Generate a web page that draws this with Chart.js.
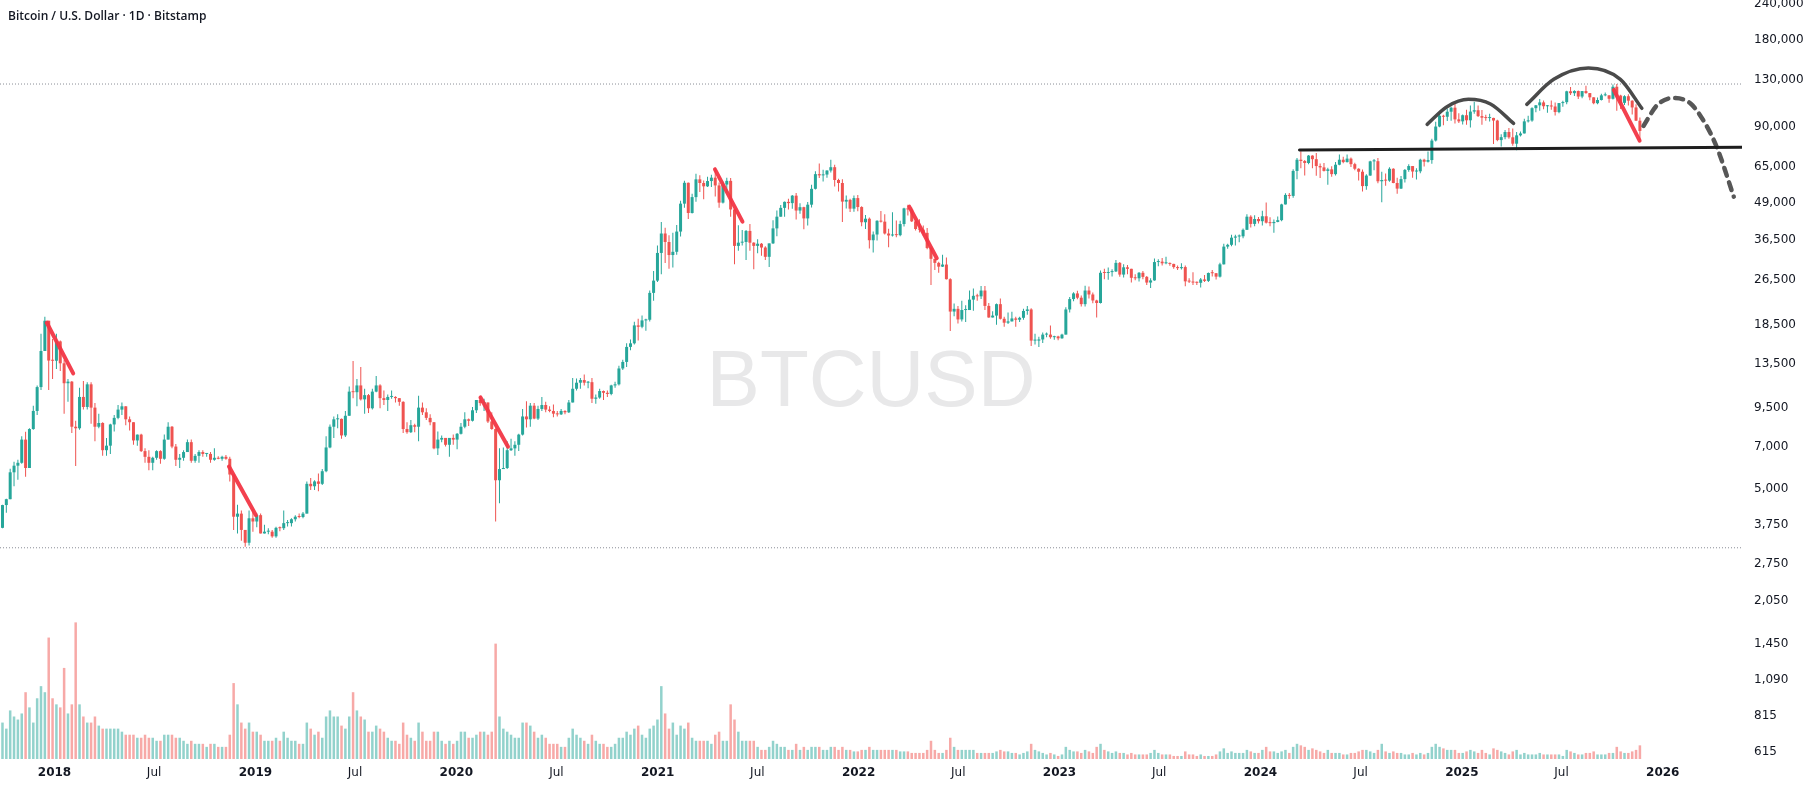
<!DOCTYPE html>
<html>
<head>
<meta charset="utf-8">
<script src="https://cdn.jsdelivr.net/npm/chart.js@4.4.1/dist/chart.umd.min.js"></script>
<style>
  html, body { margin: 0; padding: 0; background: #fff; }
  #wrap { position: relative; width: 1815px; height: 788px; }
  #title { position: absolute; left: 8px; top: 9px; font: 600 12px "Open Sans", sans-serif; line-height: 14px; color: #131722; }
</style>
</head>
<body>
<div id="wrap">
  <canvas id="chart" width="1815" height="788"></canvas>
  <div id="title">Bitcoin / U.S. Dollar · 1D · Bitstamp</div>
</div>
<script>
// weekly candles, one entry per week starting on Monday
const weekStart = "2017-09-25";
const firstOpen = 3660;

const closes = [
  // 2017
  4390, 4600, 5700, 6010, 6150, 7400, 5900, 8050, 9300, 11250, 15000, 19100, 13900, 13880,
  // 2018
  16200, 13600, 11600, 11750, 8200, 8100, 10400, 9600, 11500, 9550, 8200, 8450, 6800, 7050, 8350, 8800, 9400, 9650,
  8700, 8500, 7350, 7700, 6750, 6450, 6150, 6400, 6750, 6350, 7400, 8200, 7000, 6300, 6400, 6700, 7250, 6250,
  6500, 6700, 6600, 6600, 6300, 6400, 6350, 6450, 6350, 5600, 4000, 4100, 3600, 3250, 3950, 3850,
  // 2019
  4050, 3500, 3550, 3550, 3420, 3660, 3650, 3800, 3800, 3920, 4000, 3990, 4100, 5200, 5100, 5300, 5200, 5750,
  6950, 8200, 8700, 8730, 7650, 8950, 10850, 10800, 11400, 10200, 10550, 9500, 10850, 11400, 10300, 10150, 10400, 10400,
  10300, 10000, 8050, 7850, 8300, 8200, 9550, 9200, 8800, 8500, 6900, 7400, 7500, 7100, 7500, 7400,
  // 2020
  7750, 8200, 8700, 8600, 9350, 10150, 9900, 9950, 8550, 8050, 5350, 5850, 5900, 6800, 6900, 7100, 7700, 8900,
  8700, 9700, 8750, 9450, 9750, 9400, 9300, 9100, 9050, 9300, 9200, 9950, 11100, 11650, 11900, 11650, 11700, 10250,
  10350, 10900, 10750, 10650, 11400, 11500, 13050, 13750, 15500, 15950, 18400, 18200, 19150, 19250, 23850, 26300,
  // 2021
  32800, 38300, 35800, 32250, 33100, 38900, 48600, 57400, 45100, 51200, 59000, 57300, 55800, 58200, 59800, 56200, 49000, 56600,
  58300, 46400, 34700, 35600, 35800, 39100, 35600, 34700, 35300, 34250, 31800, 35400, 39900, 43800, 47000, 49300, 48800, 51800,
  46000, 47250, 43200, 48200, 54700, 61500, 60900, 61300, 63300, 65000, 58700, 57300, 49400, 50100, 46700, 50800,
  // 2022
  47300, 41900, 43100, 36300, 38000, 42400, 42100, 38300, 37700, 38000, 37800, 41300, 46800, 46400, 42200, 39700, 39500, 38500,
  34100, 31300, 30300, 29400, 29900, 26600, 20550, 21000, 19300, 20800, 20800, 22600, 23300, 23200, 24300, 21500, 19600, 19900,
  21800, 19400, 18800, 19000, 19450, 19250, 19550, 20650, 20900, 16300, 16300, 16450, 17100, 17100, 16750, 16850, 16600,
  // 2023
  17100, 20900, 22700, 23750, 22950, 21800, 24300, 23550, 22450, 22000, 28000, 27950, 28150, 28300, 30300, 27600, 29250, 28900,
  26900, 26800, 28000, 27100, 25900, 26350, 30500, 30600, 30200, 30250, 30050, 29300, 29050, 29300, 26150, 26100, 25900, 25850,
  26550, 26250, 27950, 27900, 27150, 29950, 34500, 35000, 37050, 37400, 37450, 39450, 43800, 41350, 43000, 42250,
  // 2024
  43950, 41750, 41600, 42000, 42600, 48300, 52100, 51700, 63100, 69000, 68300, 67200, 71300, 69300, 65600, 64900, 63100, 63900,
  61500, 66300, 69000, 67700, 69600, 66600, 64200, 62700, 55900, 60800, 68100, 68200, 58100, 58700, 58400, 64200, 57300, 54800,
  59100, 63600, 65600, 62800, 62900, 69000, 67900, 68800, 80400, 89900, 98000, 97200, 101200, 104500, 95200, 93700,
  // 2025
  98400, 94500, 101300, 102400, 97700, 96500, 96200, 96300, 94300, 80700, 82600, 86100, 82500, 78400, 83800, 85100, 93700, 94300,
  104100, 106500, 109000, 105700, 105700, 105500, 100900, 108400, 109200, 119100, 117300, 119400, 114200, 119300, 117400, 113500,
  108300, 111100, 115300, 115300, 112200, 123500, 115100, 108600, 114500, 110500, 104700, 94200, 86800
];

const highs = [
  4400, 4620, 5860, 6200, 6300, 7600, 7880, 8100, 9700, 11400, 17200, 19700, 19100, 16500,
  17200, 16300, 14000, 12000, 11800, 8600, 11200, 11800, 11700, 11700, 9900, 9100, 8500, 7500, 8400, 9000, 9750, 9950,
  9650, 8900, 8500, 7700, 7750, 6900, 6800, 6450, 6800, 6800, 7700, 8500, 8250, 7150, 6600, 6800, 7400, 7400,
  6600, 6800, 6800, 6650, 6700, 6900, 6480, 6500, 6550, 6450, 5600, 4400, 4200, 3600, 4200, 4250,
  4100, 4100, 3750, 3650, 3600, 3690, 3700, 4200, 3900, 3950, 4050, 4100, 4150, 5300, 5450, 5350, 5650, 5850,
  7600, 8350, 8900, 9050, 8750, 9300, 11300, 13850, 12000, 13200, 11100, 10650, 11100, 12300, 11500, 10950, 10600, 10950,
  10450, 10300, 10050, 8500, 8650, 8400, 10500, 9950, 9500, 9050, 8500, 7900, 7650, 7500, 7500, 7700,
  7800, 8450, 9200, 8750, 9600, 10150, 10500, 10250, 9950, 9200, 8100, 6900, 6950, 7300, 7450, 7300, 7750, 9450,
  10050, 9900, 9900, 9700, 10400, 10000, 9650, 9800, 9300, 9450, 9350, 10150, 12100, 12050, 12100, 12450, 11800, 12100,
  10600, 11100, 10950, 10950, 11450, 11750, 13350, 14000, 15950, 16450, 18950, 19400, 19900, 19400, 24300, 28400,
  34800, 41950, 40100, 37800, 38500, 41000, 49700, 58350, 57500, 52600, 61700, 61000, 58400, 60200, 61200, 64900, 57500, 58000,
  59800, 59600, 46600, 40900, 39400, 39400, 41300, 35750, 36600, 35500, 34600, 35400, 42600, 46000, 48100, 49400, 50500, 52100,
  52900, 48800, 47400, 49200, 56500, 62900, 67000, 63700, 63500, 69000, 66300, 59300, 59100, 51900, 50500, 51900,
  52100, 47600, 44400, 43500, 38900, 42600, 45800, 44700, 39800, 45400, 42500, 42400, 47000, 48200, 47100, 42500, 42900, 40800,
  40000, 34300, 31300, 30600, 32300, 31600, 26800, 21900, 21500, 22400, 21600, 24300, 24700, 23700, 25200, 25200, 22000, 20600,
  21900, 22800, 19700, 20400, 20500, 19700, 19700, 21000, 21500, 21100, 17200, 16800, 17400, 17400, 18400, 16950, 16950,
  17200, 21250, 23100, 23950, 24250, 23350, 25250, 25100, 23900, 22600, 28500, 28900, 29200, 28800, 31000, 30500, 30000, 29800,
  28900, 27650, 28200, 28400, 27300, 26800, 31400, 31200, 31500, 31800, 30400, 30100, 29700, 30200, 29700, 26800, 28100, 26100,
  26850, 27500, 28050, 28600, 27950, 30350, 35300, 35300, 37950, 37950, 38000, 39900, 44700, 44300, 44300, 43700,
  45900, 49000, 43600, 42800, 43900, 48600, 52800, 52900, 64000, 70000, 73800, 68900, 71700, 71500, 72800, 66900, 67200, 64700,
  65500, 67800, 72000, 70600, 72000, 70200, 67300, 64500, 63800, 61400, 68400, 69400, 70000, 62700, 61800, 65000, 64500, 59800,
  60600, 64100, 66500, 65600, 64500, 69500, 69500, 73600, 81500, 93400, 99600, 98700, 103900, 105200, 108300, 99900,
  98900, 102700, 106300, 109500, 106400, 102500, 98800, 99500, 96500, 95000, 84500, 87500, 88800, 88500, 86100, 86400, 95700, 97900,
  104900, 106700, 111900, 110700, 106800, 110600, 108900, 108500, 110500, 119500, 123200, 120200, 119800, 119400, 124400, 117600,
  113600, 113300, 116700, 117900, 115500, 125700, 126200, 115900, 115500, 116400, 110900, 107500, 96600
];

const lows = [
  3650, 4130, 4600, 5100, 5370, 6100, 5500, 5900, 8000, 9000, 11000, 15000, 11000, 12000,
  13000, 12800, 9100, 10000, 7800, 6000, 8000, 9400, 9400, 8400, 7300, 8100, 6500, 6500, 6600, 7900, 8700, 9000,
  8300, 7950, 7100, 7050, 6700, 6150, 5800, 5800, 6300, 6100, 6300, 7400, 6900, 6000, 5900, 6250, 6700, 6150,
  6150, 6150, 6450, 6450, 6150, 6250, 6320, 6250, 6300, 5300, 3600, 3500, 3300, 3150, 3180, 3550,
  3680, 3500, 3500, 3480, 3380, 3380, 3560, 3600, 3700, 3700, 3850, 3950, 3950, 4100, 4950, 4950, 4900, 5150,
  5700, 6900, 7500, 8100, 7450, 7550, 8950, 10300, 9650, 10100, 9100, 9150, 9400, 10800, 9500, 9750, 9300, 10250,
  9950, 9700, 7800, 7750, 7800, 7850, 7300, 9000, 8650, 8300, 6850, 6550, 7250, 7000, 6450, 7100,
  6850, 7700, 8100, 8250, 8550, 9150, 9700, 9300, 8450, 8000, 3850, 4450, 5850, 5850, 6750, 6500, 6750, 7650,
  8150, 8200, 8700, 8650, 9300, 9200, 9200, 8850, 8900, 9000, 9050, 9150, 9950, 10950, 11100, 11400, 11150, 9900,
  9850, 10250, 10150, 10400, 10550, 11200, 11400, 12900, 13200, 15100, 15800, 16300, 18000, 17650, 19000, 22400,
  26000, 27700, 30300, 28900, 29200, 32300, 37400, 47000, 43000, 44900, 49300, 53300, 50300, 55500, 55500, 51500, 47000, 48700,
  53000, 43800, 30000, 33400, 34800, 31000, 33400, 28800, 32700, 32100, 31000, 29300, 35200, 37500, 43800, 43800, 46400, 46700,
  42800, 44800, 39600, 40800, 47100, 54400, 59600, 58000, 59800, 62300, 55700, 53500, 42000, 46800, 45500, 45600,
  45700, 40600, 39700, 34000, 32900, 36200, 41800, 38000, 34300, 37400, 37200, 37500, 40500, 44200, 42000, 39200, 38600, 37600,
  33800, 25400, 28600, 28000, 29300, 26550, 17600, 19800, 18700, 19000, 18900, 20800, 20700, 22400, 22700, 20800, 19550, 19600,
  18500, 19300, 18200, 18600, 19000, 18200, 18900, 19250, 20050, 15600, 15800, 15500, 16000, 16750, 16550, 16400, 16350,
  16550, 17100, 20400, 22300, 22650, 21400, 21400, 22800, 21950, 19600, 21900, 26600, 26500, 27200, 28200, 27100, 26950, 27700,
  25900, 26400, 26100, 26600, 25400, 24800, 26300, 29500, 29700, 30000, 29600, 28900, 28600, 28750, 25150, 25800, 25400, 25400,
  24900, 26000, 26000, 27200, 26550, 26950, 29900, 33900, 34600, 34800, 35700, 36900, 39400, 40200, 40550, 41500,
  40800, 41500, 40600, 38500, 41900, 42200, 48300, 50500, 50900, 59000, 64500, 60800, 66500, 64500, 60700, 59600, 62800, 56500,
  60200, 60800, 66000, 67100, 67500, 65100, 63400, 58500, 53500, 54300, 60700, 63500, 57200, 49100, 56100, 57900, 57200, 52600,
  54600, 57500, 62700, 59800, 58900, 62000, 65300, 67500, 66800, 79800, 89400, 90800, 94000, 94200, 92200, 92500,
  91400, 91200, 89300, 99500, 97000, 91200, 94100, 93500, 78200, 80000, 76600, 81200, 81600, 77200, 74400, 83100, 85100, 92800,
  93400, 100700, 102000, 103100, 100400, 102700, 98200, 100000, 105200, 107500, 115700, 114700, 112000, 112600, 116800, 110800,
  107300, 107300, 110600, 114400, 108600, 111600, 102000, 103500, 106800, 106300, 98900, 94000, 80600
];

// average daily volume of each week, thousand BTC
const volumes = [
  12, 10, 16, 14, 13, 15, 22, 17, 12, 20, 24, 22, 40, 20,
  18, 17, 30, 15, 18, 45, 18, 14, 12, 12, 14, 11, 10, 10, 10, 10, 10, 9, 8, 8, 8, 7, 7, 8, 7, 7,
  6, 6, 8, 8, 8, 7, 7, 6, 5, 6, 5, 5, 5, 4, 5, 5, 4, 4, 4, 8, 25, 18, 12, 10, 12, 9,
  9, 8, 6, 6, 6, 7, 6, 9, 7, 6, 6, 5, 5, 12, 10, 8, 9, 7, 14, 16, 14, 14, 11, 10, 14, 22,
  16, 14, 13, 9, 9, 11, 10, 9, 7, 6, 6, 5, 12, 8, 7, 6, 12, 9, 6, 6, 9, 9, 6, 5, 6, 5,
  6, 9, 9, 7, 7, 8, 9, 9, 8, 9, 38, 14, 10, 9, 8, 7, 7, 12, 12, 11, 9, 7, 8, 7, 5, 5, 5,
  4, 4, 7, 10, 8, 7, 6, 5, 8, 6, 5, 5, 4, 4, 5, 7, 7, 9, 8, 10, 11, 8, 7, 10, 11,
  13, 24, 15, 10, 12, 8, 11, 10, 12, 7, 6, 6, 6, 6, 5, 8, 9, 6, 6, 18, 13, 9, 6, 6, 6, 6, 4,
  3, 3, 4, 6, 5, 4, 4, 3, 3, 5, 3, 4, 3, 4, 4, 4, 3, 3, 4, 4, 3, 4, 3, 3, 2.5,
  2.5, 3, 3, 4, 3, 3, 3, 3, 3, 3, 3, 2.5, 2.5, 2.5, 2, 2, 2, 2, 3, 6, 3, 2, 2, 3, 7, 4, 3,
  3, 3, 3, 3, 2, 2, 2, 2, 2, 2.5, 3, 2.5, 2.5, 2, 2, 1.5, 2, 2.5, 5, 3, 2.5, 2, 1.5, 2, 1.5, 1,
  1.5, 4, 3, 2.5, 2.5, 2, 3, 2.5, 2, 4, 5, 3, 2.5, 2, 2.5, 2, 2, 1.5, 2, 1.5, 1.5, 1.5, 1.5, 2, 3, 2,
  1.5, 1.5, 1.5, 1, 1, 1, 2.5, 1.5, 1.5, 1, 1.5, 1, 1, 1, 1.5, 2.5, 3.5, 2, 2.5, 2, 2, 2, 3, 2.5, 2, 2,
  3, 4, 2.5, 2.5, 2, 2.5, 3, 2, 4, 5, 4.5, 4, 3, 3.5, 3, 2.5, 2, 3, 2, 2, 2, 1.5, 1.5, 2, 2, 2.5,
  3, 3, 2.5, 2, 3, 5, 2.5, 2, 2.5, 2, 2, 1.5, 1.5, 2, 1.5, 2, 1.5, 2, 4, 5, 4, 3.5, 3, 3, 3, 2,
  2, 2.5, 3, 2.5, 2, 3, 2, 1.5, 3.5, 3, 2.5, 2, 1.5, 2.5, 3, 1.5, 2, 1.5, 1.5, 1.5, 2, 1.5, 1.5, 1.5,
  1.5, 1.5, 1, 3, 2.5, 2, 1.5, 1.5, 2, 2, 2.5, 1.5, 1.5, 1.5, 2, 2, 4, 2.5, 2, 2, 2.5, 3, 4.5
];

const xTickDates = ["2018-01-01", "2018-07-01", "2019-01-01", "2019-07-01", "2020-01-01", "2020-07-01",
  "2021-01-01", "2021-07-01", "2022-01-01", "2022-07-01", "2023-01-01", "2023-07-01", "2024-01-01",
  "2024-07-01", "2025-01-01", "2025-07-01", "2026-01-01"];
const xTickLabels = ["2018", "Jul", "2019", "Jul", "2020", "Jul", "2021", "Jul", "2022", "Jul",
  "2023", "Jul", "2024", "Jul", "2025", "Jul", "2026"];
const yTickValues = [240000, 180000, 130000, 90000, 65000, 49000, 36500, 26500, 18500, 13500,
  9500, 7000, 5000, 3750, 2750, 2050, 1450, 1090, 815, 615];

const visibleDates = ["2017-09-24", "2026-05-25"];
const visiblePrices = [579, 246700];
const rangeHigh = 126200;
const rangeLow = 3122;

// drawings on the chart, as [date, price]
const redLines = [
  [["2017-12-18", 18800], ["2018-02-04", 12550]],
  [["2018-11-14", 5970], ["2019-01-02", 4050]],
  [["2020-02-14", 10360], ["2020-04-04", 6990]],
  [["2021-04-15", 63900], ["2021-06-04", 42100]],
  [["2022-04-03", 47450], ["2022-05-23", 31430]],
  [["2025-10-04", 120400], ["2025-11-20", 80300]]
];
const arcLeft = [["2024-10-30", 91500], ["2024-12-05", 105300], ["2025-01-13", 111700], ["2025-02-22", 107600], ["2025-04-05", 92200]];
const arcRight = [["2025-04-29", 107300], ["2025-06-17", 131000], ["2025-08-19", 143400], ["2025-10-16", 131000], ["2025-11-24", 104000]];
const projection = [["2025-11-27", 90300], ["2025-12-22", 106700], ["2026-01-20", 112900], ["2026-02-20", 108200],
  ["2026-03-19", 92200], ["2026-04-10", 75600], ["2026-05-10", 51400]];
const neckline = [["2024-03-12", 74500], ["2026-05-25", 76200]];

const UP = "#26a69a", DOWN = "#ef5350";
const VOL_UP = "rgba(38,166,154,0.5)", VOL_DOWN = "rgba(239,83,80,0.5)";

const EPOCH = Date.UTC(2018, 0, 1);
const toDay = s => (Date.parse(s + "T00:00:00Z") - EPOCH) / 86400000;

const firstDay = toDay(weekStart);
const candleX = closes.map((_, i) => firstDay + i * 7 + 3.5);
const opens = closes.map((c, i) => (i ? closes[i - 1] : firstOpen));
const candleColors = closes.map((c, i) => (c >= opens[i] ? UP : DOWN));
const volColors = closes.map((c, i) => (c >= opens[i] ? VOL_UP : VOL_DOWN));

const toPoints = pts => pts.map(([d, p]) => ({ x: toDay(d), y: p }));

function drawing(pts, color, width, extra) {
  return Object.assign({
    type: "line",
    data: toPoints(pts),
    borderColor: color,
    borderWidth: width,
    borderCapStyle: "round",
    pointRadius: 0,
    fill: false,
    order: 1
  }, extra || {});
}

const watermark = {
  id: "watermark",
  beforeDatasetsDraw(chart) {
    const { ctx, chartArea: a } = chart;
    ctx.save();
    ctx.font = '80px "Liberation Sans", Arial, sans-serif';
    ctx.fillStyle = "#e8e8e9";
    ctx.textAlign = "center";
    ctx.textBaseline = "alphabetic";
    ctx.fillText("BTCUSD", (a.left + a.right) / 2, (a.top + a.bottom) / 2 + 26);
    ctx.restore();
  }
};

const datasets = [
  {
    type: "bar", yAxisID: "yv", order: 10, grouped: false,
    data: candleX.map((x, i) => ({ x, y: volumes[i] })),
    backgroundColor: volColors, barPercentage: 0.65, categoryPercentage: 1
  },
  {
    type: "bar", yAxisID: "y", order: 6, grouped: false, inflateAmount: 0,
    data: candleX.map((x, i) => ({ x, y: [lows[i], highs[i]] })),
    backgroundColor: candleColors, barThickness: 1
  },
  {
    type: "bar", yAxisID: "y", order: 5, grouped: false, inflateAmount: 0, minBarLength: 1,
    data: candleX.map((x, i) => ({ x, y: [opens[i], closes[i]] })),
    backgroundColor: candleColors, barThickness: 3
  },
  drawing([[visibleDates[0], rangeHigh], [visibleDates[1], rangeHigh]], "#8a8d96", 1, { borderDash: [1, 2], borderCapStyle: "butt", order: 8 }),
  drawing([[visibleDates[0], rangeLow], [visibleDates[1], rangeLow]], "#8a8d96", 1, { borderDash: [1, 2], borderCapStyle: "butt", order: 8 }),
  ...redLines.map(l => drawing(l, "rgba(242,54,69,0.95)", 4)),
  drawing(arcLeft, "#4a4a4a", 3.5, { cubicInterpolationMode: "monotone" }),
  drawing(arcRight, "#4a4a4a", 3.5, { cubicInterpolationMode: "monotone" }),
  drawing(neckline, "#1e1e1e", 3),
  drawing(projection, "#575757", 4.5, { cubicInterpolationMode: "monotone", borderDash: [8, 7] })
];

new Chart(document.getElementById("chart"), {
  type: "bar",
  data: { datasets },
  plugins: [watermark],
  options: {
    responsive: false,
    devicePixelRatio: 1,
    animation: false,
    events: [],
    layout: { padding: 0, autoPadding: false },
    plugins: { legend: { display: false }, tooltip: { enabled: false } },
    scales: {
      x: {
        type: "linear",
        min: toDay(visibleDates[0]),
        max: toDay(visibleDates[1]),
        offset: false,
        grid: { display: false, drawTicks: false, offset: false },
        border: { display: false },
        afterBuildTicks: s => { s.ticks = xTickDates.map(d => ({ value: toDay(d) })); },
        afterFit: s => { s.height = 29; s.paddingLeft = 0; s.paddingRight = 0; },
        ticks: {
          autoSkip: false,
          maxRotation: 0,
          padding: 7,
          color: "#131722",
          font: c => ({ family: "DejaVu Sans", size: 12, weight: xTickLabels[c.index] === "Jul" ? "normal" : "bold" }),
          callback: (v, i) => xTickLabels[i]
        }
      },
      y: {
        type: "logarithmic",
        position: "right",
        min: visiblePrices[0],
        max: visiblePrices[1],
        grid: { display: false, drawTicks: false },
        border: { display: false },
        afterBuildTicks: s => { s.ticks = yTickValues.map(v => ({ value: v })); },
        afterFit: s => { s.width = 73; s.paddingTop = 0; s.paddingBottom = 0; },
        ticks: {
          autoSkip: false,
          padding: 12,
          crossAlign: "near",
          color: "#131722",
          font: { family: "DejaVu Sans", size: 12 },
          callback: v => Number(v).toLocaleString("en-US")
        }
      },
      yv: { type: "linear", display: false, min: 0, max: 250 }
    }
  }
});
</script>
</body>
</html>
